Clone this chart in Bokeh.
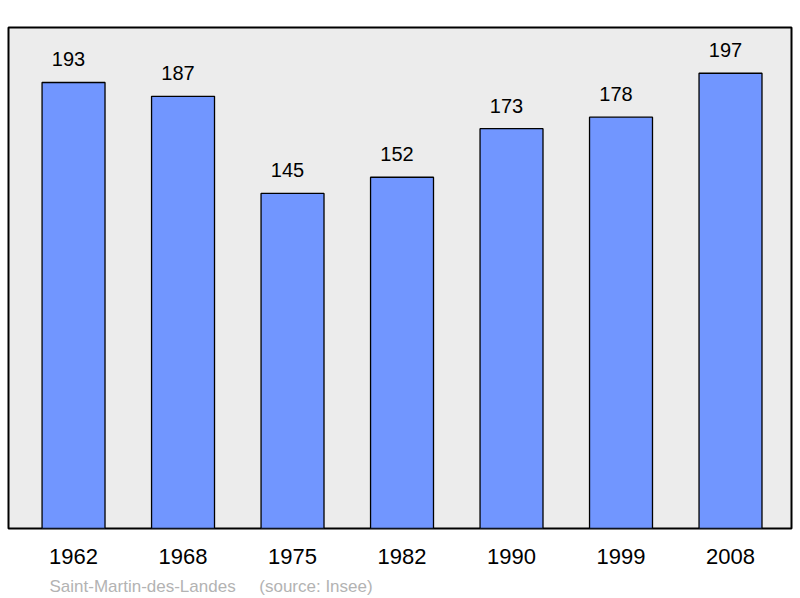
from bokeh.plotting import figure
from bokeh.models import FixedTicker, Title, LabelSet, ColumnDataSource
from bokeh.core.properties import value
from bokeh.embed import file_html
from bokeh.resources import INLINE

# data
years = ["1962", "1968", "1975", "1982", "1990", "1999", "2008"]
population = [193, 187, 145, 152, 173, 178, 197]
positions = list(range(len(years)))

source = ColumnDataSource(data=dict(
    x=positions,
    pop=population,
    label=[str(v) for v in population],
))

p = figure(width=800, height=596, output_backend="svg", toolbar_location=None,
           x_range=(-0.594, 6.557), y_range=(0, 216.8),
           min_border_left=8, min_border_right=9,
           min_border_top=27, min_border_bottom=68)

p.background_fill_color = "#ececec"
p.border_fill_color = "white"
p.outline_line_color = "black"
p.outline_line_width = 2
p.grid.visible = False
p.yaxis.visible = False

p.vbar(x="x", top="pop", width=0.575, bottom=0, source=source,
       fill_color="#7196ff", line_color="black", line_width=1.3)

# value labels sit slightly left of the bar centre, as in the original
labels = LabelSet(x="x", y="pop", text="label", source=source,
                  x_offset=-5, y_offset=16, text_align="center",
                  text_baseline="alphabetic",
                  text_font=value("Liberation Sans"), text_font_size="20px",
                  text_color="black")
p.add_layout(labels)

# x axis with year labels
p.xaxis.ticker = FixedTicker(ticks=positions)
p.xaxis.major_label_overrides = {i: y for i, y in enumerate(years)}
p.xaxis.axis_line_color = None
p.xaxis.major_tick_line_color = None
p.xaxis.minor_tick_line_color = None
p.xaxis.major_label_text_font = "Liberation Sans"
p.xaxis.major_label_text_font_size = "22px"
p.xaxis.major_label_text_color = "black"
p.xaxis.major_label_standoff = 14

# source note
note = Title(text="Saint-Martin-des-Landes\u00a0\u00a0\u00a0\u00a0\u00a0(source: Insee)",
             align="left", offset=41, text_font="Liberation Sans",
             text_font_size="17px", text_font_style="normal",
             text_color="#b3b3b3", standoff=0,
             padding=dict(left=0, right=0, top=8, bottom=0))
p.add_layout(note, "below")

open("out.html", "w").write(file_html(p, INLINE))
